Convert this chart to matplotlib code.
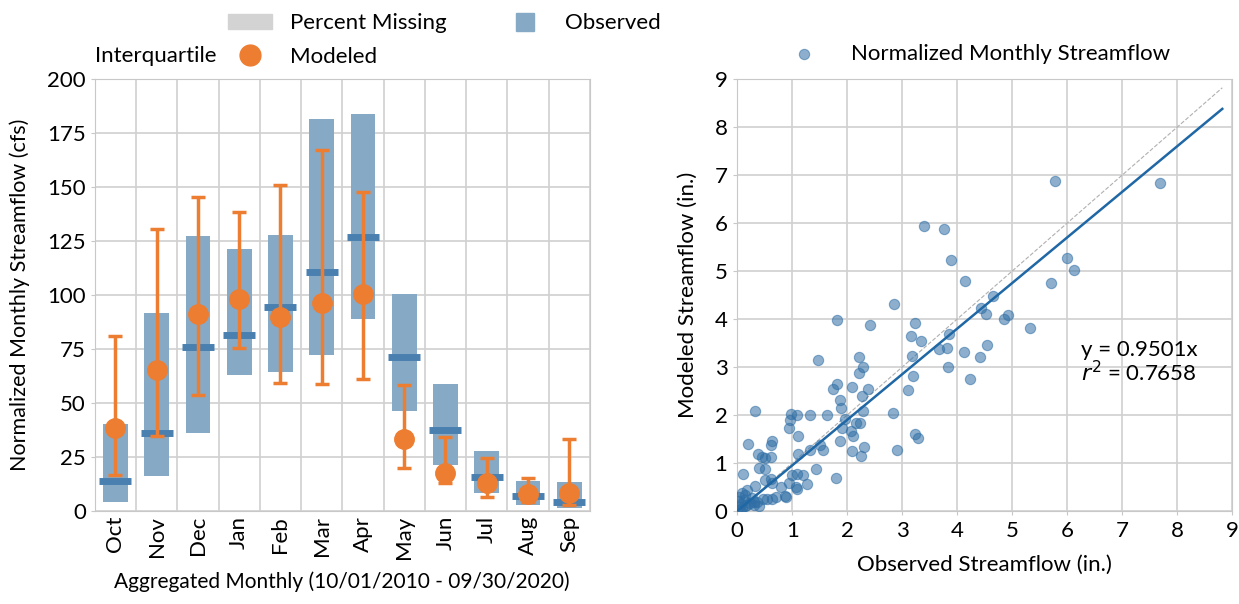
import numpy as np
import matplotlib.pyplot as plt
from matplotlib.patches import Patch
from matplotlib.lines import Line2D

plt.rcParams['font.family'] = ['Lato', 'DejaVu Sans']
plt.rcParams['font.size'] = 16

# Datos mensuales (cfs)
meses = ['Oct', 'Nov', 'Dec', 'Jan', 'Feb', 'Mar', 'Apr', 'May', 'Jun', 'Jul', 'Aug', 'Sep']
obs_q1 = [4.2, 16.4, 36.0, 62.8, 64.4, 72.1, 88.8, 46.3, 21.1, 8.2, 2.8, 1.2]
obs_q3 = [40.3, 91.8, 127.3, 121.2, 127.6, 181.5, 183.8, 100.5, 58.6, 27.9, 13.9, 13.3]
obs_med = [13.9, 36.0, 76.1, 81.3, 94.6, 110.8, 127.0, 71.2, 37.5, 15.6, 7.1, 4.3]
mod_med = [38.3, 65.3, 91.2, 98.3, 90.0, 96.2, 100.3, 33.3, 17.4, 12.8, 7.9, 8.5]
mod_q1 = [16.8, 34.9, 53.9, 75.5, 59.1, 58.9, 61.0, 19.9, 12.8, 6.3, 4.3, 2.8]
mod_q3 = [81.2, 130.4, 145.5, 138.4, 150.9, 167.0, 147.8, 58.5, 34.4, 24.4, 15.4, 33.2]

# Datos de dispersion (in.)
obs_in = [5.77, 7.68, 3.39, 3.76, 3.89, 6.00, 6.13, 4.15, 5.71, 4.65, 4.44, 4.53, 4.85, 4.93,
          5.33, 2.86, 1.81, 2.42, 3.23, 3.16, 3.35, 3.86, 3.67, 3.81, 4.12, 4.54, 4.41, 3.84,
          4.24, 3.18, 3.19, 3.10, 1.46, 2.21, 2.29, 2.22, 2.37, 2.26, 2.28, 2.08, 1.82, 1.75,
          1.87, 1.88, 1.96, 1.91, 2.06, 2.11, 2.16, 2.23, 1.87, 2.08, 2.31, 2.25, 2.84, 2.90,
          3.24, 3.28, 1.63, 1.32, 0.98, 1.08, 0.96, 0.95, 1.10, 0.33, 0.20, 0.63, 0.61, 0.38,
          0.45, 0.50, 0.62, 1.11, 1.33, 1.50, 1.56, 1.43, 1.80, 0.39, 0.50, 0.10, 0.50, 0.61,
          0.64, 0.79, 1.00, 1.08, 1.20, 0.95, 1.06, 1.09, 1.26, 0.86, 0.88, 0.33, 0.18, 0.09,
          0.04, 0.55, 0.64, 0.46, 0.30, 0.24, 0.18, 0.12, 0.06, 0.03, 0.09, 0.30, 0.36, 0.15,
          0.02, 0.05, 0.14, 0.27, 0.70, 0.40]
mod_in = [6.88, 6.83, 5.94, 5.87, 5.24, 5.27, 5.03, 4.80, 4.75, 4.49, 4.24, 4.11, 4.01, 4.08,
          3.81, 4.32, 3.99, 3.88, 3.92, 3.65, 3.54, 3.68, 3.38, 3.40, 3.31, 3.46, 3.20, 3.00,
          2.76, 3.23, 2.81, 2.52, 3.15, 3.21, 3.01, 2.88, 2.54, 2.39, 2.09, 2.59, 2.65, 2.55,
          2.32, 2.14, 1.92, 1.73, 1.67, 1.57, 1.84, 1.83, 1.45, 1.26, 1.34, 1.14, 2.05, 1.27,
          1.60, 1.52, 1.99, 2.01, 2.03, 2.01, 1.90, 1.72, 1.56, 2.08, 1.39, 1.46, 1.38, 1.19,
          1.13, 1.10, 1.12, 1.19, 1.27, 1.37, 1.28, 0.88, 0.68, 0.90, 0.88, 0.78, 0.65, 0.66,
          0.59, 0.51, 0.74, 0.78, 0.75, 0.58, 0.51, 0.46, 0.56, 0.32, 0.30, 0.52, 0.44, 0.37,
          0.30, 0.26, 0.26, 0.25, 0.19, 0.16, 0.13, 0.23, 0.15, 0.09, 0.06, 0.13, 0.19, 0.33,
          0.20, 0.02, 0.10, 0.28, 0.30, 0.10]
pendiente = 0.9501
r2 = 0.7658

c_obs = '#86aac6'
c_med = '#4a80b0'
c_mod = '#ed7d31'
c_sc = '#2f6ea5'

fig = plt.figure(figsize=(12.39, 6.04), dpi=100)
ax1 = fig.add_axes([0.0765, 0.154, 0.3995, 0.715])
ax2 = fig.add_axes([0.595, 0.154, 0.3995, 0.715])

# Grafico izquierdo
x = np.arange(len(meses))
q1 = np.array(obs_q1)
q3 = np.array(obs_q3)
ax1.bar(x, q3 - q1, bottom=q1, width=0.6, color=c_obs, zorder=2)
ax1.hlines(obs_med, x - 0.39, x + 0.39, color=c_med, lw=5, zorder=3)
mm = np.array(mod_med)
ax1.errorbar(x, mm, yerr=[mm - np.array(mod_q1), np.array(mod_q3) - mm], fmt='o',
             color=c_mod, ms=14, capsize=5, elinewidth=2.5, capthick=2.5, zorder=4)
ax1.set_xlim(-0.5, len(meses) - 0.5)
ax1.set_ylim(0, 200)
ax1.set_yticks(np.arange(0, 201, 25))
ax1.set_xticks(x)
ax1.set_xticklabels(meses, rotation=90)
ax1.set_xticks(np.arange(-0.5, len(meses), 1), minor=True)
ax1.grid(False)
ax1.grid(True, which='minor', axis='x', color='#d0d0d0', lw=1.2, zorder=0)
ax1.grid(True, which='major', axis='y', color='#d0d0d0', lw=1.2, zorder=0)
ax1.tick_params(axis='x', which='both', length=0, labelsize=16)
ax1.tick_params(axis='y', length=3, color='#c8c8c8', labelsize=16)
ax1.set_ylabel('Normalized Monthly Streamflow (cfs)', fontsize=15.5, labelpad=12)
ax1.set_xlabel('Aggregated Monthly (10/01/2010 - 09/30/2020)', fontsize=15, labelpad=9)
for s in ax1.spines.values():
    s.set_color('#c8c8c8')
ax1.set_axisbelow(True)

handles = [Patch(color='#d3d3d3'),
           Line2D([], [], marker='o', ls='none', color=c_mod, ms=15),
           Line2D([], [], marker='s', ls='none', color=c_obs, ms=13.5)]
labels = ['Percent Missing', 'Modeled', 'Observed']
fig.legend(handles, labels, ncol=2, frameon=False, loc='upper left',
           bbox_to_anchor=(0.1675, 1.011), fontsize=16, handlelength=2.0,
           handletextpad=0.8, columnspacing=2.55, labelspacing=0.6)
fig.text(0.077, 0.908, 'Interquartile', fontsize=16, va='center')

# Grafico derecho
ax2.scatter(obs_in, mod_in, s=55, color=c_sc, alpha=0.55, edgecolor=c_sc, lw=0.8,
            zorder=3, label='Normalized Monthly Streamflow')
xl = np.array([0, 8.82])
ax2.plot(xl, xl, color='#b0b0b0', ls='--', lw=0.8, zorder=2)
ax2.plot(xl, pendiente * xl, color='#1f67a5', lw=1.8, zorder=4)
ax2.text(6.25, 3.1, 'y = %.4fx\n$r^2$ = %.4f' % (pendiente, r2), fontsize=16,
         linespacing=1.0, va='center')
ax2.set_xlim(0, 9)
ax2.set_ylim(0, 9)
ax2.set_xticks(range(10))
ax2.set_yticks(range(10))
ax2.grid(True, color='#d0d0d0', lw=1.2, zorder=0)
ax2.tick_params(length=3, color='#c8c8c8', labelsize=16, pad=4)
ax2.set_xlabel('Observed Streamflow (in.)', fontsize=16, labelpad=10)
ax2.set_ylabel('Modeled Streamflow (in.)', fontsize=16, labelpad=12)
for s in ax2.spines.values():
    s.set_color('#c8c8c8')
ax2.set_axisbelow(True)
ax2.legend(loc='lower left', bbox_to_anchor=(0.059, 1.0), frameon=False, fontsize=16,
           handletextpad=1.1, borderaxespad=0.3)

fig.savefig('out.png', dpi=100)
